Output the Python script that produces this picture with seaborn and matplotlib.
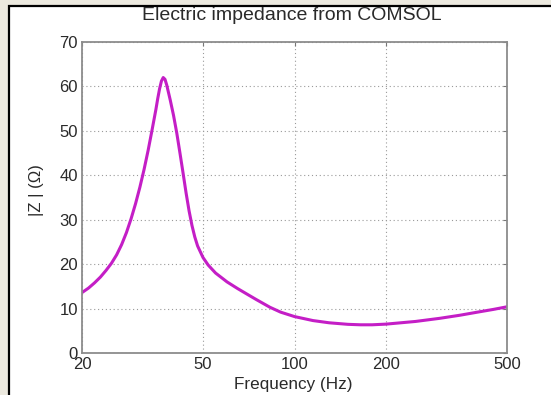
import matplotlib
matplotlib.use("Agg")
import matplotlib.pyplot as plt
from matplotlib.patches import Rectangle
from matplotlib.ticker import FixedLocator, NullLocator, FixedFormatter
import seaborn as sns
import pandas as pd

# values
freq = [20, 21, 22, 23, 24, 25, 26, 27, 28, 29, 30, 31, 32, 33, 34, 35, 35.5, 36, 36.5,
        37, 37.5, 38, 39, 40, 41, 42, 43, 44, 45, 46, 47, 48, 50, 52, 55, 60, 65, 70,
        75, 83, 90, 100, 115, 130, 150, 165, 180, 200, 250, 300, 350, 400, 450, 500]
impedance = [13.6, 14.6, 15.8, 17.1, 18.6, 20.2, 22.1, 24.4, 27.1, 30.2, 33.6, 37.3, 41.3,
             45.6, 50.2, 54.8, 57.3, 59.5, 61.2, 62, 61.6, 60.3, 57, 53.5, 49.5, 45, 40.5,
             36, 32, 28.7, 26.1, 24.1, 21.5, 19.8, 18, 16, 14.5, 13.2, 12, 10.3, 9.2, 8.2,
             7.3, 6.8, 6.45, 6.35, 6.35, 6.5, 7.1, 7.8, 8.5, 9.2, 9.8, 10.4]
xticks = [20, 50, 100, 200, 500]
yticks = [0, 10, 20, 30, 40, 50, 60, 70]

df = pd.DataFrame({"f": freq, "z": impedance})

sns.set_style("white")
plt.rcParams["font.family"] = ["Liberation Sans", "DejaVu Sans"]

W, H = 551, 395
fig = plt.figure(figsize=(W / 100, H / 100), dpi=100, facecolor="#ECE9DF")
# white panel with black border on the left and top
fig.patches.append(Rectangle((9 / W, -0.05), 1.1, 1 - 6 / H + 0.05, transform=fig.transFigure,
                             facecolor="white", edgecolor="black", linewidth=1.6, zorder=-10))

ax = fig.add_axes([82 / W, 1 - 353 / H, (507 - 82) / W, (353 - 42) / H])
ax.set_zorder(5)
sns.lineplot(data=df, x="f", y="z", ax=ax, color="#C41EC6", linewidth=2.2)

ax.set_xscale("log")
ax.set_xlim(20, 500)
ax.set_ylim(0, 70)
ax.xaxis.set_major_locator(FixedLocator(xticks))
ax.xaxis.set_major_formatter(FixedFormatter([str(t) for t in xticks]))
ax.xaxis.set_minor_locator(NullLocator())
ax.set_yticks(yticks)

ax.grid(True, linestyle=(0, (1, 2.5)), color="#9a9a9a", linewidth=0.8)
for s in ax.spines.values():
    s.set_color("#8c8c8c")
    s.set_linewidth(1.3)
ax.tick_params(direction="in", length=3, width=0.8, color="#777777", top=True, right=True,
               labelsize=12, labelcolor="#2a2a2a", pad=3)

ax.set_xlabel("")
ax.set_ylabel("")
fig.text(292 / W, 1 - 16 / H, "Electric impedance from COMSOL", ha="center", va="center",
         fontsize=14, color="#2a2a2a")
fig.text(293 / W, 1 - 385 / H, "Frequency (Hz)", ha="center", va="center",
         fontsize=12.3, color="#2a2a2a")
fig.text(37 / W, 1 - 190 / H, "|Z | (Ω)", ha="center", va="center", rotation=90,
         fontsize=12, color="#2a2a2a")

fig.savefig("out.png", dpi=100, facecolor=fig.get_facecolor())
